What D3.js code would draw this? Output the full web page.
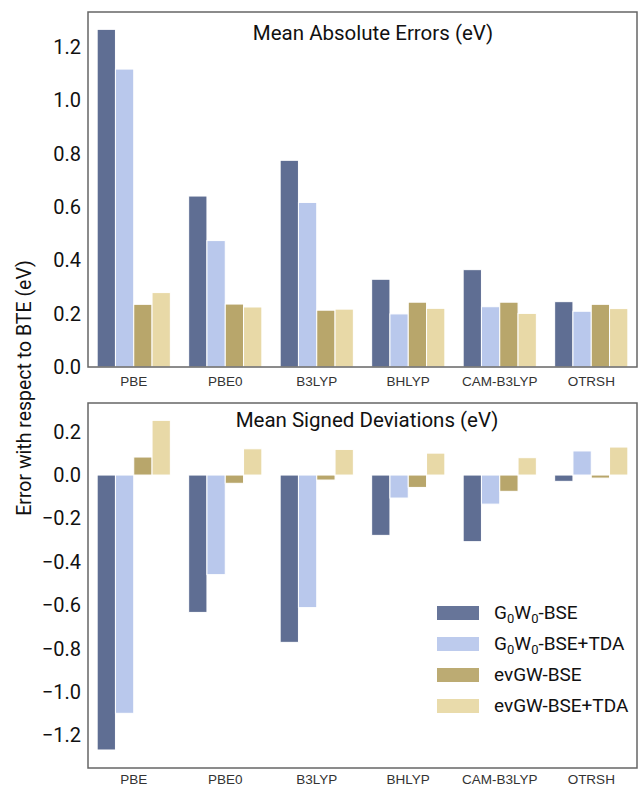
<!DOCTYPE html>
<html>
<head>
<meta charset="utf-8">
<script src="https://cdn.jsdelivr.net/npm/d3@7"></script>
<style>
  body { margin: 0; background: #fff; }
  svg { display: block; }
</style>
</head>
<body>
<svg id="chart" width="638" height="788"></svg>
<script>
var functionals = ["PBE", "PBE0", "B3LYP", "BHLYP", "CAM-B3LYP", "OTRSH"];
var methods = ["G0W0-BSE", "G0W0-BSE+TDA", "evGW-BSE", "evGW-BSE+TDA"];
var colors = ["#5f6e93", "#b9c8ec", "#b8a66b", "#e8d9a7"];

// mean absolute errors, one array per method, in functional order
var maeG0W0 = [1.266, 0.641, 0.775, 0.329, 0.365, 0.245];
var maeG0W0Tda = [1.117, 0.474, 0.617, 0.199, 0.226, 0.209];
var maeEvGW = [0.235, 0.236, 0.213, 0.243, 0.243, 0.235];
var maeEvGWTda = [0.279, 0.225, 0.217, 0.220, 0.201, 0.219];

// mean signed deviations
var msdG0W0 = [-1.267, -0.633, -0.771, -0.278, -0.307, -0.029];
var msdG0W0Tda = [-1.098, -0.459, -0.611, -0.106, -0.134, 0.111];
var msdEvGW = [0.083, -0.038, -0.023, -0.057, -0.075, -0.014];
var msdEvGWTda = [0.252, 0.121, 0.118, 0.101, 0.080, 0.129];

var maeTicks = [0.0, 0.2, 0.4, 0.6, 0.8, 1.0, 1.2];
var msdTicks = [-1.2, -1.0, -0.8, -0.6, -0.4, -0.2, 0.0, 0.2];

var svg = d3.select("#chart");
var left = 88, right = 637;

function toRows(series) {
  var rows = [];
  functionals.forEach(function(f, i) {
    methods.forEach(function(m, j) {
      rows.push({ func: f, method: m, value: series[j][i], k: j });
    });
  });
  return rows;
}

function drawPanel(opts) {
  var g = svg.append("g");
  var x0 = d3.scaleBand().domain(functionals).range([left, right])
    .paddingInner(0.2).paddingOuter(0.1);
  var x1 = d3.scaleBand().domain(methods).range([0, x0.bandwidth()]);
  var y = d3.scaleLinear().domain(opts.domain).range([opts.bottom, opts.top]);

  g.selectAll("rect.bar")
    .data(toRows(opts.series))
    .enter().append("rect")
    .attr("class", "bar")
    .attr("x", function(d) { return x0(d.func) + x1(d.method); })
    .attr("width", x1.bandwidth())
    .attr("y", function(d) { return y(Math.max(0, d.value)); })
    .attr("height", function(d) { return Math.abs(y(d.value) - y(0)); })
    .attr("fill", function(d) { return colors[d.k]; })
    .attr("stroke", "#fff")
    .attr("stroke-width", 1);

  // frame
  g.append("rect")
    .attr("x", left).attr("y", opts.top)
    .attr("width", right - left).attr("height", opts.bottom - opts.top)
    .attr("fill", "none").attr("stroke", "#666").attr("stroke-width", 1.5);

  var yAxis = d3.axisLeft(y).tickValues(opts.ticks).tickSize(0).tickPadding(7)
    .tickFormat(d3.format(".1f"));
  g.append("g").attr("transform", "translate(" + left + ",0)").call(yAxis)
    .call(function(a) { a.select(".domain").remove(); })
    .selectAll("text")
    .attr("font-family", "Roboto, sans-serif")
    .attr("font-size", 20)
    .attr("fill", "#111");

  var xAxis = d3.axisBottom(x0).tickSize(0).tickPadding(opts.xPad);
  g.append("g").attr("transform", "translate(0," + opts.bottom + ")").call(xAxis)
    .call(function(a) { a.select(".domain").remove(); })
    .selectAll("text")
    .attr("font-family", "Liberation Sans, Arial, sans-serif")
    .attr("font-size", 13.5)
    .attr("fill", "#333");

  g.append("text")
    .attr("x", opts.titleX).attr("y", opts.titleY)
    .attr("text-anchor", "middle")
    .attr("font-family", "Roboto, sans-serif")
    .attr("font-size", 20.5)
    .attr("fill", "#111")
    .text(opts.title);
  return y;
}

drawPanel({
  top: 12, bottom: 367, domain: [0, 1.331], xPad: 9,
  series: [maeG0W0, maeG0W0Tda, maeEvGW, maeEvGWTda],
  ticks: maeTicks, title: "Mean Absolute Errors (eV)", titleX: 373, titleY: 40
});

drawPanel({
  top: 403, bottom: 768, domain: [-1.350, 0.332], xPad: 6,
  series: [msdG0W0, msdG0W0Tda, msdEvGW, msdEvGWTda],
  ticks: msdTicks, title: "Mean Signed Deviations (eV)", titleX: 367, titleY: 427
});

svg.append("text")
  .attr("transform", "translate(31,388) rotate(-90)")
  .attr("text-anchor", "middle")
  .attr("font-family", "Roboto, sans-serif")
  .attr("font-size", 19.5)
  .attr("fill", "#111")
  .text("Error with respect to BTE (eV)");

// legend
var legend = svg.append("g").attr("transform", "translate(437,606)");
var labelParts = [
  [["G", 0], ["0", 1], ["W", 0], ["0", 1], ["-BSE", 0]],
  [["G", 0], ["0", 1], ["W", 0], ["0", 1], ["-BSE+TDA", 0]],
  [["evGW-BSE", 0]],
  [["evGW-BSE+TDA", 0]]
];
var item = legend.selectAll("g.item").data(methods).enter().append("g")
  .attr("class", "item")
  .attr("transform", function(d, i) { return "translate(0," + (i * 31) + ")"; });
item.append("rect")
  .attr("width", 42).attr("height", 14)
  .attr("fill", function(d, i) { return colors[i]; })
  .attr("opacity", 0.95);
item.append("text")
  .attr("x", 57).attr("y", 13)
  .attr("font-family", "Roboto, sans-serif")
  .attr("font-size", 19)
  .attr("fill", "#111")
  .each(function(d, i) {
    var t = d3.select(this);
    labelParts[i].forEach(function(p) {
      var span = t.append("tspan").text(p[0]);
      if (p[1]) span.attr("font-size", 13).attr("dy", 4);
      else if (t.selectAll("tspan").size() > 1) span.attr("dy", -4);
    });
  });
</script>
</body>
</html>
